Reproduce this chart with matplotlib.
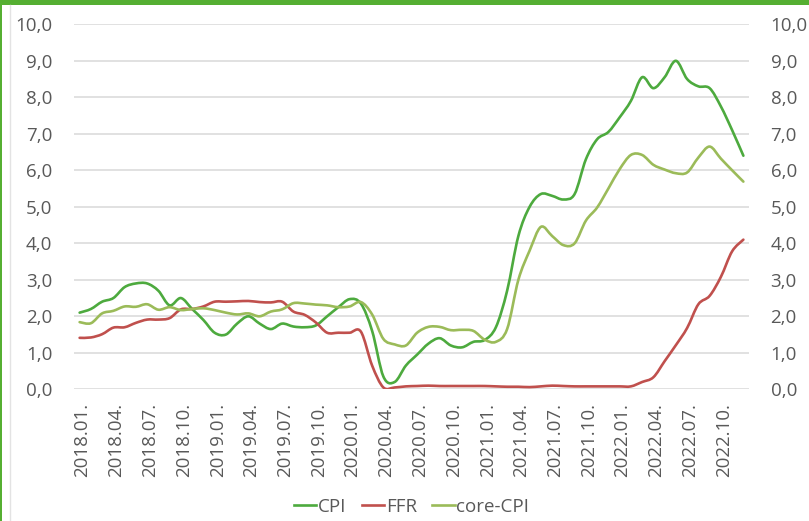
import matplotlib
matplotlib.use("Agg")
import matplotlib.pyplot as plt
import matplotlib.transforms as mtransforms
from matplotlib.lines import Line2D
from matplotlib.patches import PathPatch, Rectangle
from matplotlib.path import Path
import numpy as np


YEARS = [2018, 2019, 2020, 2021, 2022]
MONTHS = list(range(1, 13))
CATEGORIES = [f"{y}.{m:02d}." for y in YEARS for m in MONTHS]

CPI = [2.1, 2.2, 2.4, 2.5, 2.8, 2.9, 2.9, 2.7, 2.3, 2.5, 2.2, 1.9,
       1.55, 1.5, 1.8, 2.0, 1.8, 1.65, 1.8, 1.72, 1.7, 1.75, 2.0, 2.25,
       2.47, 2.35, 1.6, 0.35, 0.2, 0.65, 0.95, 1.25, 1.4, 1.2, 1.15, 1.3,
       1.35, 1.7, 2.7, 4.2, 5.0, 5.35, 5.3, 5.2, 5.35, 6.3, 6.85, 7.05,
       7.45, 7.9, 8.55, 8.25, 8.55, 9.0, 8.5, 8.3, 8.25, 7.75, 7.1, 6.4]

FFR = [1.41, 1.42, 1.51, 1.69, 1.70, 1.82, 1.91, 1.91, 1.95, 2.19, 2.20, 2.27,
       2.40, 2.40, 2.41, 2.42, 2.39, 2.38, 2.40, 2.13, 2.04, 1.83, 1.55, 1.55,
       1.55, 1.58, 0.65, 0.05, 0.05, 0.08, 0.09, 0.10, 0.09, 0.09, 0.09, 0.09,
       0.09, 0.08, 0.07, 0.07, 0.06, 0.08, 0.10, 0.09, 0.08, 0.08, 0.08, 0.08,
       0.08, 0.08, 0.20, 0.33, 0.77, 1.21, 1.68, 2.33, 2.56, 3.08, 3.78, 4.10]

CORE_CPI = [1.84, 1.81, 2.08, 2.15, 2.27, 2.26, 2.33, 2.18, 2.25, 2.17, 2.2, 2.22,
            2.17, 2.1, 2.05, 2.08, 2.0, 2.13, 2.19, 2.36, 2.35, 2.32, 2.3, 2.25,
            2.27, 2.39, 2.05, 1.38, 1.23, 1.2, 1.55, 1.71, 1.71, 1.62, 1.63, 1.6,
            1.36, 1.3, 1.65, 3.0, 3.8, 4.45, 4.2, 3.95, 4.0, 4.62, 4.98, 5.5,
            6.03, 6.42, 6.42, 6.15, 6.02, 5.92, 5.94, 6.35, 6.65, 6.32, 6.0, 5.69]

SERIES_NAMES = ["CPI", "FFR", "core-CPI"]
SERIES_COLORS = ["#4DAA3E", "#C0504D", "#9BBB59"]
TEXT_COLOR = "#595959"
GRID_COLOR = "#D9D9D9"
FRAME_GREEN = "#55AF32"
LINE_WIDTH = 1.9
FONT_SIZE = 13.5


def smooth_path(values):
    # Excel-style smoothed line: cubic Bezier through every point
    x = np.arange(len(values), dtype=float)
    y = np.asarray(values, dtype=float)
    pts = np.column_stack([x, y])
    verts = [pts[0]]
    codes = [Path.MOVETO]
    n = len(pts)
    for i in range(n - 1):
        p_prev = pts[i - 1] if i > 0 else pts[i]
        p_next2 = pts[i + 2] if i + 2 < n else pts[i + 1]
        c1 = pts[i] + (pts[i + 1] - p_prev) / 6
        c2 = pts[i + 1] - (p_next2 - pts[i]) / 6
        verts.extend([c1, c2, pts[i + 1]])
        codes.extend([Path.CURVE4] * 3)
    return Path(verts, codes)


plt.rcParams["font.family"] = ["Open Sans", "DejaVu Sans"]

fig = plt.figure(figsize=(8.09, 5.21), dpi=100)
ax = fig.add_axes([74 / 809, 1 - 389.3 / 521, 675 / 809, 365 / 521])

for values, color in zip([CPI, FFR, CORE_CPI], SERIES_COLORS):
    ax.add_patch(PathPatch(smooth_path(values), facecolor="none", edgecolor=color,
                           linewidth=LINE_WIDTH, capstyle="round", joinstyle="round",
                           zorder=3))

ax.set_xlim(-0.5, len(CATEGORIES) - 0.5)
ax.set_ylim(0, 10)

yticks = np.arange(0, 11, 1)
ax.set_yticks(yticks)
ax.set_yticklabels([f"{v:.1f}".replace(".", ",") for v in yticks])
ax.yaxis.grid(True, color=GRID_COLOR, linewidth=1.1)
ax.set_axisbelow(True)
ax.tick_params(axis="y", length=0, pad=15.5, labelsize=FONT_SIZE, colors=TEXT_COLOR,
               labelright=True, right=False)

tick_pos = np.arange(0, len(CATEGORIES), 3)
ax.set_xticks(tick_pos)
ax.set_xticklabels([CATEGORIES[i] for i in tick_pos], rotation=90)
ax.tick_params(axis="x", length=0, pad=10, labelsize=FONT_SIZE, colors=TEXT_COLOR)
offset = mtransforms.ScaledTranslation(3 / 100, 0, fig.dpi_scale_trans)
for label in ax.get_xticklabels():
    label.set_transform(label.get_transform() + offset)

for spine in ax.spines.values():
    spine.set_visible(False)

handles = [Line2D([], [], color=c, linewidth=LINE_WIDTH) for c in SERIES_COLORS]
ax.legend(handles, SERIES_NAMES, loc="center", bbox_to_anchor=(0.5, -0.322),
          ncol=3, frameon=False, fontsize=FONT_SIZE, labelcolor=TEXT_COLOR,
          handlelength=1.2, handletextpad=0.1, columnspacing=0.8,
          borderaxespad=0)

# frame decoration: green top band, green left edge, grey inner edge
fig.add_artist(Rectangle((0, 1 - 4.5 / 521), 1, 4.5 / 521, transform=fig.transFigure,
                         facecolor=FRAME_GREEN, edgecolor="none"))
fig.add_artist(Rectangle((0, 0), 2 / 809, 1, transform=fig.transFigure,
                         facecolor=FRAME_GREEN, edgecolor="none"))
fig.add_artist(Line2D([9.5 / 809, 9.5 / 809], [0, 1 - 4.5 / 521], transform=fig.transFigure,
                      color="#E3E3E3", linewidth=1.0))

fig.savefig("out.png", dpi=100)
